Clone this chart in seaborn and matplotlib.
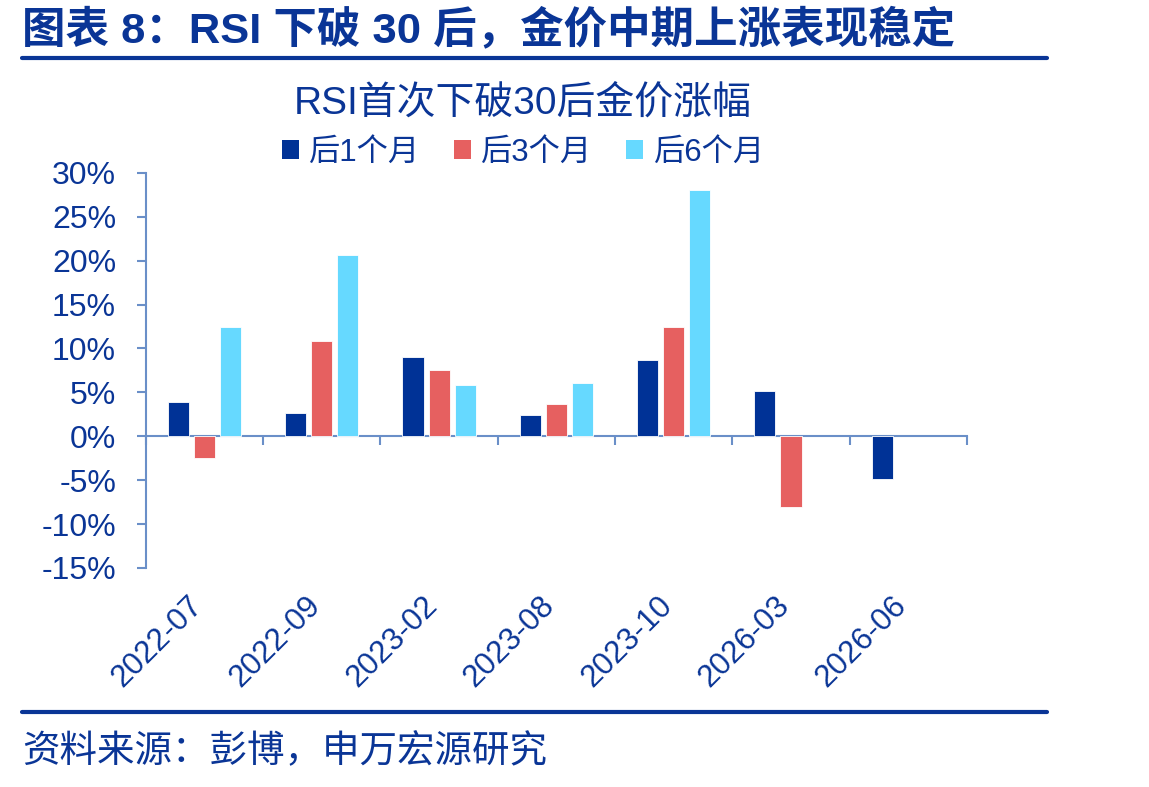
import numpy as np
import pandas as pd
import matplotlib
matplotlib.use("Agg")
import matplotlib.pyplot as plt
import matplotlib.transforms as mtransforms
from matplotlib.lines import Line2D
from matplotlib.patches import Patch
import seaborn as sns

# data (values in %)
months = ["2022-07", "2022-09", "2023-02", "2023-08", "2023-10", "2026-03", "2026-06"]
series = ["后1个月", "后3个月", "后6个月"]
after_1m = [3.9, 2.6, 9.0, 2.4, 8.7, 5.2, -4.9]
after_3m = [-2.5, 10.8, 7.5, 3.7, 12.4, -8.05, np.nan]
after_6m = [12.4, 20.6, 5.8, 6.1, 28.0, np.nan, np.nan]

colors = ["#003296", "#E66060", "#66D9FF"]
text_blue = "#0A3596"
axis_blue = "#6A8FC8"

df = pd.DataFrame({
    "month": months * 3,
    "series": [s for s in series for _ in months],
    "value": after_1m + after_3m + after_6m,
})

sns.set_theme(style="white")
plt.rcParams["font.family"] = ["Liberation Sans", "Noto Sans CJK SC"]

fig = plt.figure(figsize=(11.49, 7.87), dpi=100)
ax = fig.add_axes([0.127, 0.2783, 0.7145, 0.502])

sns.barplot(data=df, x="month", y="value", hue="series", hue_order=series,
            order=months, palette=colors, width=0.667, gap=0.19,
            edgecolor="white", linewidth=0.6, saturation=1, ax=ax, legend=False)

ax.set_xlim(-0.5, len(months) - 0.5)
ax.set_ylim(-15, 30)
ax.set_yticks(np.arange(-15, 31, 5))
ax.set_yticklabels([f"{v}%" for v in range(-15, 31, 5)])
ax.set_xlabel("")
ax.set_ylabel("")

for side in ["top", "right", "bottom"]:
    ax.spines[side].set_visible(False)
ax.spines["left"].set_color(axis_blue)
ax.spines["left"].set_linewidth(1.5)
ax.tick_params(axis="y", direction="out", length=6.5, width=1.5, color=axis_blue,
               labelsize=23, labelcolor=text_blue, pad=15, left=True)
ax.tick_params(axis="x", length=0, labelsize=22.5, labelcolor=text_blue, pad=24)
shift = mtransforms.ScaledTranslation(-6 / 100, 0, fig.dpi_scale_trans)
for lab in ax.get_xticklabels():
    lab.set_rotation(45)
    lab.set_ha("right")
    lab.set_va("center")
    lab.set_rotation_mode("anchor")
    lab.set_transform(lab.get_transform() + shift)

# zero line with category separators
zero_axis = ax.secondary_xaxis(0, transform=ax.transData)
zero_axis.set_xticks(np.arange(-0.5, len(months), 1.0))
zero_axis.set_xticklabels([])
zero_axis.spines["bottom"].set_color(axis_blue)
zero_axis.spines["bottom"].set_linewidth(1.5)
zero_axis.tick_params(direction="out", length=6.5, width=1.5, color=axis_blue)

# chart title and legend
fig.text(0.455, 0.868, "RSI首次下破30后金价涨幅", ha="center", va="center",
         fontsize=28, color=text_blue)
handles = [Patch(facecolor=c, edgecolor="none") for c in colors]
fig.legend(handles, series, loc="center", bbox_to_anchor=(0.455, 0.806), ncol=3,
           frameon=False, fontsize=22.5, labelcolor=text_blue, handlelength=0.55,
           handleheight=0.55, handletextpad=0.3, columnspacing=1.1)

# report header and footer
fig.text(0.019, 0.962, "图表 8：RSI 下破 30 后，金价中期上涨表现稳定", ha="left", va="center",
         fontsize=31.3, fontweight="bold", color=text_blue)
fig.add_artist(Line2D([0.019, 0.911], [0.926, 0.926], color="#0A3596", linewidth=3,
                      transform=fig.transFigure))
fig.add_artist(Line2D([0.019, 0.911], [0.0953, 0.0953], color="#0A3596", linewidth=3,
                      transform=fig.transFigure))
fig.text(0.019, 0.0445, "资料来源：彭博，申万宏源研究", ha="left", va="center",
         fontsize=27, color=text_blue)

fig.savefig("out.png", dpi=100)
